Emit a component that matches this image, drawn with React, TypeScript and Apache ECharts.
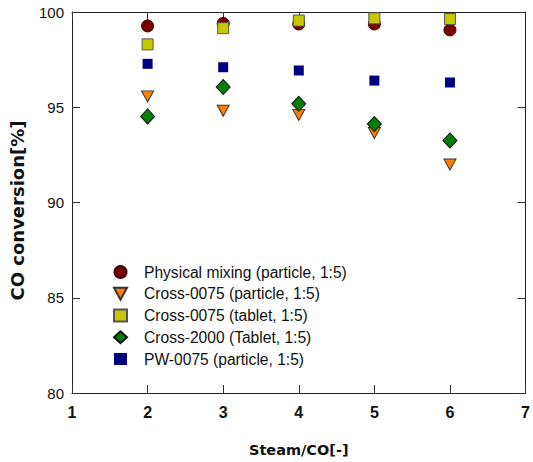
import React, { useEffect, useRef } from "react";
import * as echarts from "echarts";

const steamCO = [2, 3, 4, 5, 6];
const physicalMixing = [99.27, 99.4, 99.37, 99.37, 99.06];
const cross0075Particle = [95.57, 94.82, 94.6, 93.65, 91.99];
const cross0075Tablet = [98.3, 99.15, 99.55, 99.67, 99.63];
const cross2000Tablet = [94.52, 96.06, 95.18, 94.12, 93.26];
const pw0075Particle = [97.28, 97.1, 96.93, 96.4, 96.3];

const seriesNames = [
  "Physical mixing (particle, 1:5)",
  "Cross-0075 (particle, 1:5)",
  "Cross-0075 (tablet, 1:5)",
  "Cross-2000 (Tablet, 1:5)",
  "PW-0075 (particle, 1:5)",
];

const pair = (vals: number[]) => steamCO.map((x, i) => [x, vals[i]]);

export default function App() {
  const ref = useRef<HTMLDivElement>(null);
  useEffect(() => {
    if (!ref.current) return;
    const chart = echarts.init(ref.current, undefined, { renderer: "svg" });
    const axisLine = { show: true, lineStyle: { color: "#222", width: 1 } };
    const tick = { show: true, inside: true, length: 8, lineStyle: { color: "#333" } };
    chart.setOption({
      animation: false,
      backgroundColor: "#fff",
      grid: { left: 71, right: 2, top: 12, bottom: 68, containLabel: false },
      legend: {
        orient: "vertical",
        left: 108,
        top: 259,
        itemWidth: 13,
        itemHeight: 12,
        itemGap: 5.75,
        symbolKeepAspect: true,
        textStyle: {
          fontFamily: "Liberation Sans",
          fontSize: 15.6,
          color: "#111",
          padding: [0, 0, 0, 12],
        },
        data: seriesNames,
      },
      xAxis: [
        {
          type: "value",
          min: 1,
          max: 7,
          interval: 1,
          position: "bottom",
          axisLine,
          axisTick: tick,
          splitLine: { show: false },
          axisLabel: {
            margin: 11,
            fontFamily: "Liberation Sans",
            fontWeight: "bold",
            fontSize: 16,
            color: "#111",
          },
          name: "Steam/CO[-]",
          nameLocation: "middle",
          nameGap: 49,
          nameTextStyle: {
            fontFamily: "DejaVu Sans",
            fontWeight: "bold",
            fontSize: 14.5,
            color: "#111",
          },
        },
        {
          type: "value",
          min: 1,
          max: 7,
          interval: 1,
          position: "top",
          axisLine,
          axisTick: tick,
          axisLabel: { show: false },
          splitLine: { show: false },
        },
      ],
      yAxis: [
        {
          type: "value",
          min: 80,
          max: 100,
          interval: 5,
          position: "left",
          axisLine,
          axisTick: tick,
          splitLine: { show: false },
          axisLabel: {
            margin: 8,
            fontFamily: "Liberation Sans",
            fontSize: 15,
            color: "#111",
          },
          name: "CO conversion[%]",
          nameLocation: "middle",
          nameGap: 46,
          nameTextStyle: {
            fontFamily: "DejaVu Sans",
            fontWeight: "bold",
            fontSize: 18,
            color: "#111",
            padding: [0, 16, 0, 0],
          },
        },
        {
          type: "value",
          min: 80,
          max: 100,
          interval: 5,
          position: "right",
          axisLine,
          axisTick: tick,
          axisLabel: { show: false },
          splitLine: { show: false },
        },
      ],
      series: [
        {
          name: seriesNames[0],
          type: "scatter",
          symbol: "circle",
          symbolSize: 12,
          data: pair(physicalMixing),
          itemStyle: { color: "#7a0000", borderColor: "#3a0000", borderWidth: 1, opacity: 1 },
        },
        {
          name: seriesNames[1],
          type: "scatter",
          symbol: "path://M0,0L12,0L6,11Z",
          symbolSize: [12, 11],
          data: pair(cross0075Particle),
          itemStyle: { color: "#ff8000", borderColor: "#333", borderWidth: 1, opacity: 1 },
        },
        {
          name: seriesNames[2],
          type: "scatter",
          symbol: "rect",
          symbolSize: 11,
          data: pair(cross0075Tablet),
          itemStyle: { color: "#c8c800", borderColor: "#555", borderWidth: 1, opacity: 1 },
        },
        {
          name: seriesNames[3],
          type: "scatter",
          symbol: "diamond",
          symbolSize: [14, 15],
          data: pair(cross2000Tablet),
          itemStyle: { color: "#008000", borderColor: "#111", borderWidth: 1, opacity: 1 },
        },
        {
          name: seriesNames[4],
          type: "scatter",
          symbol: "rect",
          symbolSize: 10,
          data: pair(pw0075Particle),
          itemStyle: { color: "#000080", borderWidth: 0, opacity: 1 },
        },
      ],
    });
    return () => chart.dispose();
  }, []);
  return <div ref={ref} style={{ width: 533, height: 462, position: "absolute", left: 0, top: 0 }} />;
}
